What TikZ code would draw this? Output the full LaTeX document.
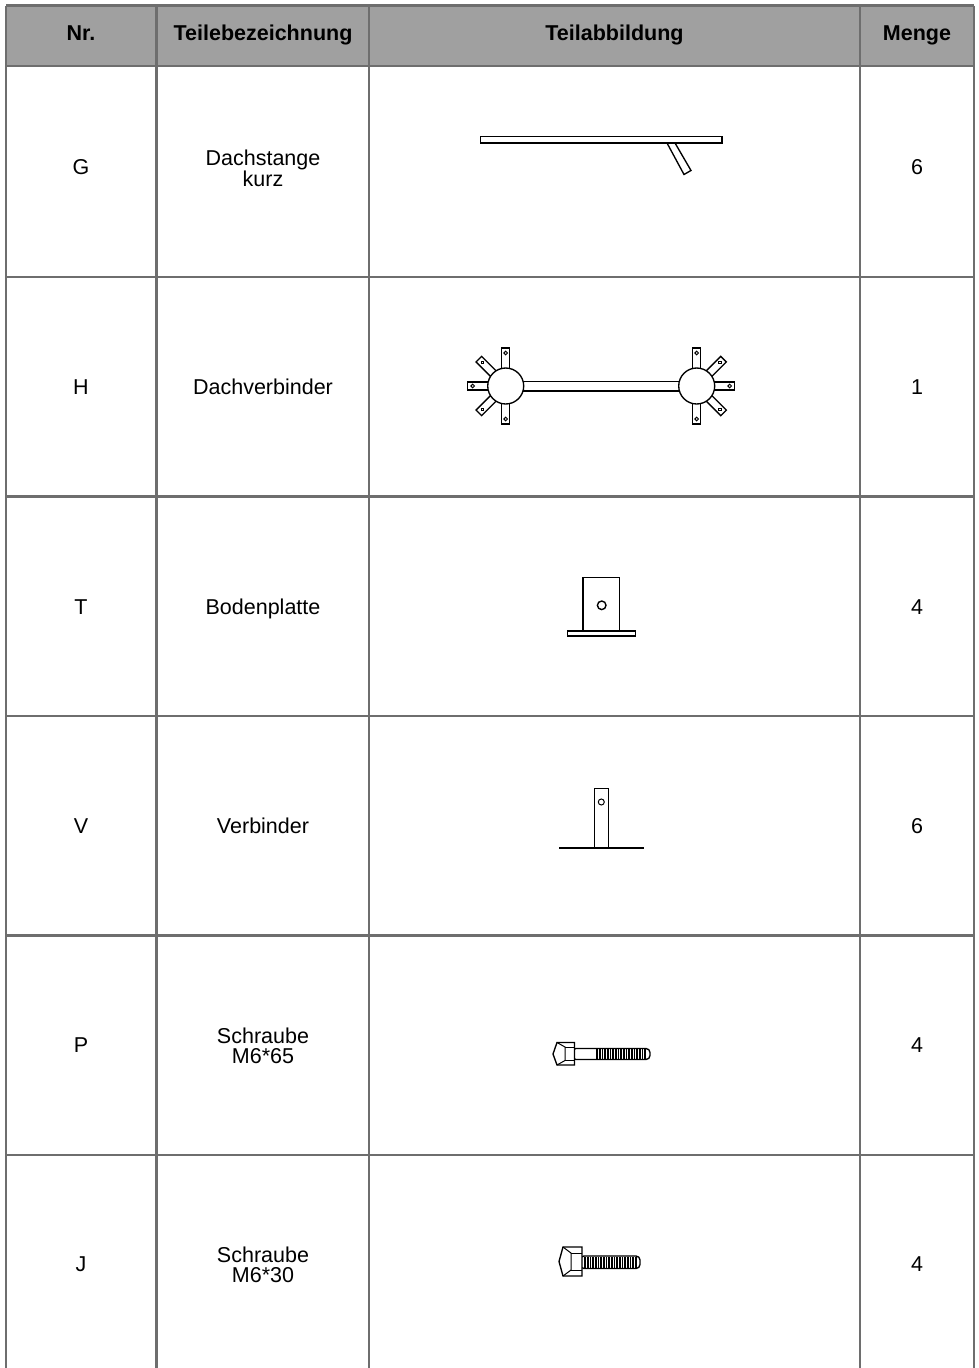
\documentclass[tikz,border=0pt]{standalone}
\usepackage{fontspec}
\setmainfont{Liberation Sans}

\definecolor{headgray}{HTML}{A0A0A0}
\definecolor{rulegray}{HTML}{6E6E6E}
\tikzset{
  cell/.style={font=\fontsize{21.5}{19.5}\selectfont, align=center, inner sep=0pt},
  one/.style={cell, text height=15.5pt, text depth=0pt},
  head/.style={font=\fontsize{21.5}{19.5}\selectfont\bfseries, inner sep=0pt, text height=15.5pt, text depth=0pt},
  rule/.style={rulegray, line width=2.2pt},
  part/.style={draw, line width=1.35pt, fill=white},
  hole/.style={draw, line width=1pt, fill=white},
  thread/.style={line width=0.8pt},
}

\begin{document}
\begin{tikzpicture}[x=1pt,y=-1pt]
      \useasboundingbox (0,0) rectangle (978,1368);
      % Tabelle
      \fill[headgray] (6,5.5) rectangle (974,66);
      \draw[rule] (6,5.5) -- (974,5.5);
      \draw[rule] (6,66) -- (974,66);
      \draw[rule] (6,277) -- (974,277);
      \draw[rule] (6,496.5) -- (974,496.5);
      \draw[rule] (6,716) -- (974,716);
      \draw[rule] (6,935.5) -- (974,935.5);
      \draw[rule] (6,1155) -- (974,1155);
      \draw[rule] (6,5.5) -- (6,1368);
      \draw[rule] (156.5,5.5) -- (156.5,1368);
      \draw[rule] (369,5.5) -- (369,1368);
      \draw[rule] (860,5.5) -- (860,1368);
      \draw[rule] (974,5.5) -- (974,1368);

      % Kopfzeile
      \node[head] (nr) at (81,32.5) {Nr.};
      \node[head] (bez) at (263,32.5) {Teilebezeichnung};
      \node[head] (abb) at (614.5,32.5) {Teilabbildung};
      \node[head] (menge) at (917,32.5) {Menge};

      % Zeilen
      \node[one] (nrG) at (81,167) {G};
      \node[cell] (bezG) at (263,168) {Dachstange\\kurz};
      \node[one] (mengeG) at (917,167) {6};
      \node[one] (nrH) at (81,387) {H};
      \node[one] (bezH) at (263,387) {Dachverbinder};
      \node[one] (mengeH) at (917,387) {1};
      \node[one] (nrT) at (81,607) {T};
      \node[one] (bezT) at (263,607) {Bodenplatte};
      \node[one] (mengeT) at (917,607) {4};
      \node[one] (nrV) at (81,826) {V};
      \node[one] (bezV) at (263,826) {Verbinder};
      \node[one] (mengeV) at (917,826) {6};
      \node[one] (nrP) at (81,1045) {P};
      \node[cell] (bezP) at (263,1046) {Schraube\\M6*65};
      \node[one] (mengeP) at (917,1045) {4};
      \node[one] (nrJ) at (81,1264) {J};
      \node[cell] (bezJ) at (263,1265) {Schraube\\M6*30};
      \node[one] (mengeJ) at (917,1264) {4};

      % G: Dachstange
      \draw[part] (667,143) -- (684,174.5) -- (691,170.5) -- (675,143) -- cycle;
      \draw[part] (480.5,136.5) rectangle (722,143);

      % H: Dachverbinder
      \begin{scope}[shift={(505.7,386)}]
        \foreach \a in {90,135,180,225,270} {
          \draw[part,rotate=\a] (16,-3.9) rectangle (38,3.9);
          \draw[hole,rotate=\a] (33,0) circle (1.8);
        }
      \end{scope}
      \begin{scope}[shift={(696.7,386)}]
        \foreach \a in {-90,-45,0,45,90} {
          \draw[part,rotate=\a] (16,-3.9) rectangle (38,3.9);
          \draw[hole,rotate=\a] (33,0) circle (1.8);
        }
      \end{scope}
      \draw[part] (520,381.5) rectangle (682,391);
      \draw[part] (505.7,386) circle (18);
      \draw[part] (696.7,386) circle (18);

      % T: Bodenplatte
      \draw[part] (583,577.5) rectangle (619.5,631);
      \draw[part] (567.5,631) rectangle (635.5,636);
      \draw[hole,line width=1.4pt] (601.7,605.3) circle (4.3);

      % V: Verbinder
      \draw[part] (594.7,788.5) rectangle (608.3,847.5);
      \draw[hole] (601.3,802) circle (3);
      \draw[line width=2.2pt] (559,847.7) -- (644,847.7);

      % P: Schraube M6*65
      \draw[part,rounded corners=4pt] (572,1048.5) rectangle (650,1059.5);
      \foreach \t in {596,597.6,...,647} {
        \draw[thread] (\t,1049) -- (\t,1059);
      }
      \draw[part] (557,1042.5) -- (574.5,1042.5) -- (574.5,1065) -- (557,1065) -- (553,1054) -- cycle;
      \draw[line width=1pt] (557,1042.5) -- (565,1047) -- (565,1060.5) -- (557,1065);
      \draw[line width=1pt] (565,1047) -- (574.5,1047);
      \draw[line width=1pt] (565,1060.5) -- (574.5,1060.5);

      % J: Schraube M6*30
      \draw[part,rounded corners=4pt] (580,1256) rectangle (640,1268.5);
      \foreach \t in {584,585.6,...,637} {
        \draw[thread] (\t,1256.5) -- (\t,1268);
      }
      \draw[part] (563,1247) -- (582,1247) -- (582,1276) -- (563,1276) -- (559,1261.5) -- cycle;
      \draw[line width=1pt] (563,1247) -- (571,1253) -- (571,1270) -- (563,1276);
      \draw[line width=1pt] (571,1253) -- (582,1253);
      \draw[line width=1pt] (571,1270) -- (582,1270);
    \end{tikzpicture}
\end{document}
